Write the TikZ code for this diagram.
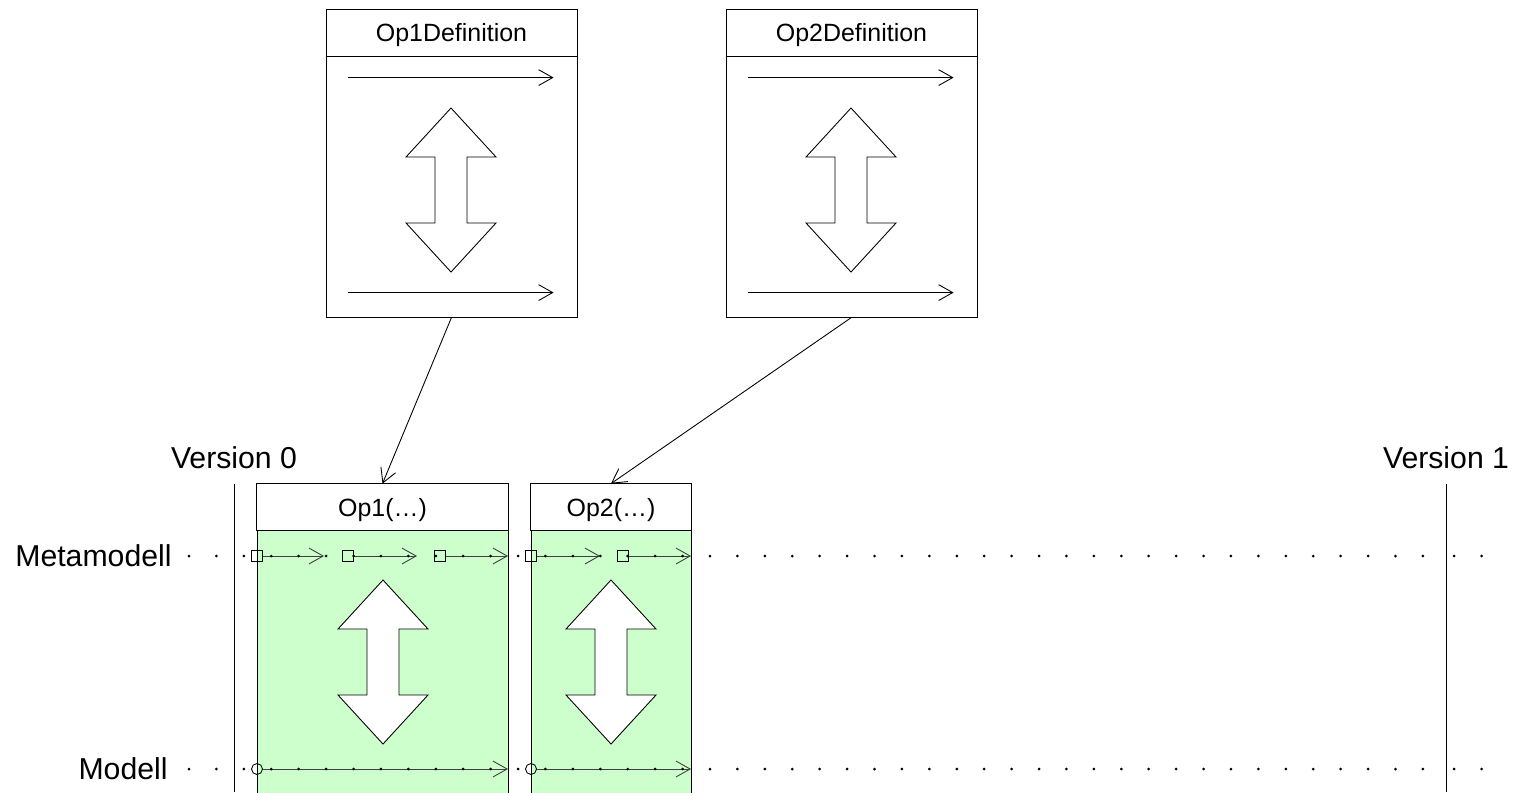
\documentclass[tikz,border=0pt]{standalone}
\usepackage{fontspec}
\setmainfont{Liberation Sans}
\usetikzlibrary{arrows.meta}
\definecolor{opgreen}{HTML}{CCFFCC}
\newcommand{\bigarrow}[2]{%
  \draw[fill=white] (#1,#2-82) -- (#1+45,#2-33) -- (#1+16,#2-33) -- (#1+16,#2+33)
    -- (#1+45,#2+33) -- (#1,#2+82) -- (#1-45,#2+33) -- (#1-16,#2+33)
    -- (#1-16,#2-33) -- (#1-45,#2-33) -- cycle;}
\begin{document}
\begin{tikzpicture}[x=0.02cm,y=-0.02cm,line width=0.5pt,
  defbox/.style={draw,minimum width=5.02cm,minimum height=6.16cm,inner sep=0pt},
  opbox/.style={draw,fill=opgreen,minimum height=6.24cm,inner sep=0pt},
  title/.style={font=\fontsize{14.2}{17}\selectfont,inner sep=0pt,anchor=base},
  big/.style={font=\fontsize{17.2}{20}\selectfont,inner sep=0pt},
  barb/.style={-{Straight Barb[length=8pt,width=9pt]}},
  mline/.style={barb,draw=black!75},
  sq/.style={draw,minimum size=0.21cm,inner sep=0pt},
  rnd/.style={draw,circle,minimum size=0.22cm,inner sep=0pt}]
\useasboundingbox (0,0) rectangle (1513,792);
\clip (0,0) rectangle (1513,792);
% operation definitions
\node[defbox] (op1def) at (451.5,163) {};
\node[defbox] (op2def) at (851.5,163) {};
\foreach \b in {op1def,op2def} {
  \draw ([yshift=-0.96cm]\b.north west) -- ([yshift=-0.96cm]\b.north east);
  \draw[barb] ([shift={(22,69)}]\b.north west) -- ([shift={(228,69)}]\b.north west);
  \draw[barb] ([shift={(22,284)}]\b.north west) -- ([shift={(228,284)}]\b.north west);
}
\node[title] (op1deft) at ([yshift=-0.66cm]op1def.north) {Op1Definition};
\node[title] (op2deft) at ([yshift=-0.66cm]op2def.north) {Op2Definition};
\bigarrow{451}{190}
\bigarrow{851}{190}
% operations
\node[opbox,minimum width=5.02cm] (op1) at (382.5,640) {};
\node[opbox,minimum width=3.2cm] (op2) at (611,640) {};
\foreach \b in {op1,op2}
  \draw[fill=white] (\b.north west) rectangle ([yshift=-0.94cm]\b.north east);
\node[title] (op1t) at ([yshift=-0.65cm]op1.north) {Op1(\dots)};
\node[title] (op2t) at ([yshift=-0.65cm]op2.north) {Op2(\dots)};
\bigarrow{383}{662}
\bigarrow{611}{662}
\draw[barb] (op1def.south) -- (op1.north);
\draw[barb] (op2def.south) -- (op2.north);
% versions
\node[big] (v0) at (234,458) {Version 0};
\node[big] (v1) at (1446,458) {Version 1};
\coordinate (v0b) at (234,792);
\coordinate (v1b) at (1446,792);
\draw (v0 |- op1.north) -- (v0b);
\draw (v1 |- op1.north) -- (v1b);
% levels
\node[big,anchor=east] (meta) at (172,556) {Metamodell};
\node[big,anchor=east] (mod) at (168,769) {Modell};
\foreach \n/\s/\t in {1/257/324,2/348/417,3/440/508,4/531/600,5/623/691} {
  \node[sq] (m\n) at (\s,556) {};
  \coordinate (mt\n) at (\t,556);
  \draw[mline] (m\n) -- (mt\n);
}
\foreach \n/\s/\t in {1/257/508,2/531/691} {
  \node[rnd] (c\n) at (\s,769) {};
  \coordinate (ct\n) at (\t,769);
  \draw[mline] (c\n) -- (ct\n);
}
\foreach \k in {0,...,45} {
  \fill (189+27.42*\k,556) circle[radius=0.03cm];
  \fill (189+27.42*\k,769) circle[radius=0.03cm];
}
\foreach \x in {1454,1481.5} {
  \fill (\x,556) circle[radius=0.03cm];
  \fill (\x,769) circle[radius=0.03cm];
}
\end{tikzpicture}
\end{document}
